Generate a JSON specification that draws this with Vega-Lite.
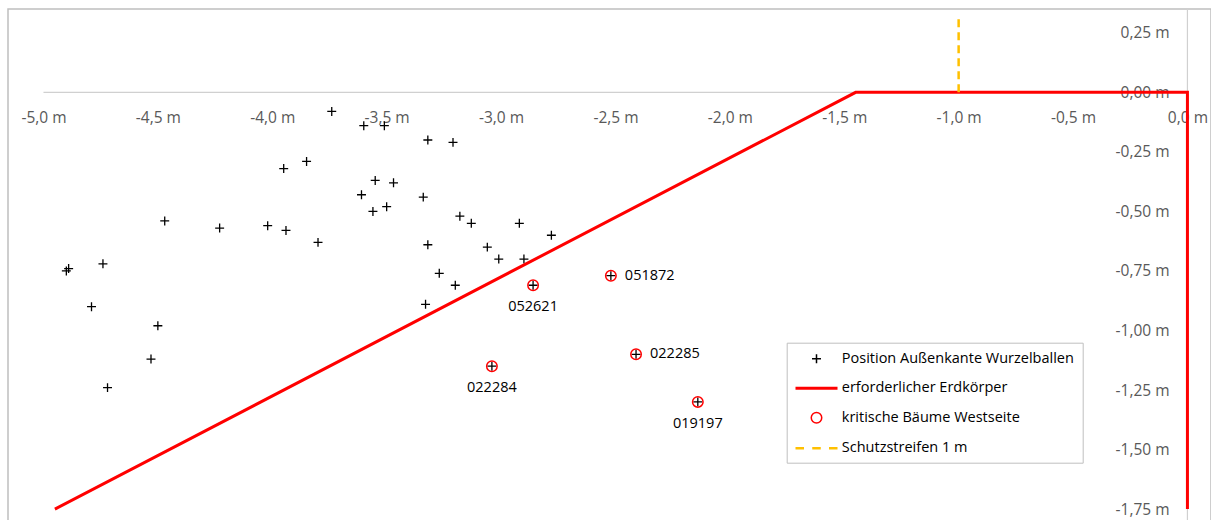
{
  "$schema": "https://vega.github.io/schema/vega-lite/v6.json",
  "width": 1203,
  "height": 512,
  "autosize": "none",
  "padding": {"left": 8, "top": 9, "right": 0, "bottom": 0},
  "background": "white",
  "config": {
    "view": {"stroke": "#BFBFBF", "strokeWidth": 1.5},
    "font": "Open Sans",
    "axis": {"labelFont": "Open Sans", "labelFontSize": 15.5, "labelColor": "#595959", "domain": false, "ticks": false, "grid": false}
  },
  "datasets": {
    "roots": [
      {"x": -4.90, "y": -0.75}, {"x": -4.89, "y": -0.74}, {"x": -4.74, "y": -0.72}, {"x": -4.79, "y": -0.90},
      {"x": -4.50, "y": -0.98}, {"x": -4.53, "y": -1.12}, {"x": -4.72, "y": -1.24}, {"x": -4.47, "y": -0.54},
      {"x": -4.23, "y": -0.57}, {"x": -4.02, "y": -0.56}, {"x": -3.94, "y": -0.58}, {"x": -3.80, "y": -0.63},
      {"x": -3.95, "y": -0.32}, {"x": -3.85, "y": -0.29}, {"x": -3.74, "y": -0.08}, {"x": -3.60, "y": -0.14},
      {"x": -3.51, "y": -0.14}, {"x": -3.32, "y": -0.20}, {"x": -3.21, "y": -0.21}, {"x": -3.55, "y": -0.37},
      {"x": -3.47, "y": -0.38}, {"x": -3.61, "y": -0.43}, {"x": -3.34, "y": -0.44}, {"x": -3.56, "y": -0.50},
      {"x": -3.50, "y": -0.48}, {"x": -3.18, "y": -0.52}, {"x": -3.13, "y": -0.55}, {"x": -2.92, "y": -0.55},
      {"x": -2.78, "y": -0.60}, {"x": -3.32, "y": -0.64}, {"x": -3.06, "y": -0.65}, {"x": -3.01, "y": -0.70},
      {"x": -2.90, "y": -0.70}, {"x": -3.27, "y": -0.76}, {"x": -3.20, "y": -0.81}, {"x": -3.33, "y": -0.89},
      {"x": -2.86, "y": -0.81}, {"x": -2.52, "y": -0.77}, {"x": -2.41, "y": -1.10}, {"x": -3.04, "y": -1.15},
      {"x": -2.14, "y": -1.30}
    ],
    "trees": [
      {"name": "052621", "x": -2.86, "y": -0.81},
      {"name": "051872", "x": -2.52, "y": -0.77},
      {"name": "022285", "x": -2.41, "y": -1.10},
      {"name": "022284", "x": -3.04, "y": -1.15},
      {"name": "019197", "x": -2.14, "y": -1.30}
    ],
    "profile": [
      {"i": 1, "x": -4.95, "y": -1.75},
      {"i": 2, "x": -1.45, "y": 0},
      {"i": 3, "x": 0, "y": 0},
      {"i": 4, "x": 0, "y": -1.75}
    ],
    "strip": [
      {"i": 1, "x": -1, "y": 0},
      {"i": 2, "x": -1, "y": 0.32}
    ],
    "axislines": [
      {"x": -5, "x2": 0, "y": 0, "y2": 0},
      {"x": 0, "x2": 0, "y": -1.8, "y2": 0.35}
    ]
  },
  "encoding": {
    "x": {
      "field": "x", "type": "quantitative",
      "scale": {"domain": [-5.155, 0.103], "nice": false, "zero": false},
      "axis": {
        "title": null, "orient": "bottom", "offset": -428.7, "labelPadding": 18,
        "values": [-5, -4.5, -4, -3.5, -3, -2.5, -2, -1.5, -1, -0.5, 0],
        "labelExpr": "replace(replace(format(datum.value, '.1f'), '\u2212', '-'), '.', ',') + ' m'",
        "labelFlush": false, "labelOverlap": false
      }
    },
    "y": {
      "field": "y", "type": "quantitative",
      "scale": {"domain": [-1.8, 0.35], "nice": false, "zero": false},
      "axis": {
        "title": null, "orient": "left", "offset": -1179.5, "labelPadding": 18.5,
        "values": [-1.75, -1.5, -1.25, -1, -0.75, -0.5, -0.25, 0, 0.25],
        "labelExpr": "replace(replace(format(datum.value, '.2f'), '\u2212', '-'), '.', ',') + ' m'",
        "labelFlush": false, "labelOverlap": false
      }
    }
  },
  "layer": [
    {
      "data": {"name": "axislines"},
      "mark": {"type": "rule", "color": "#D0D0D0", "strokeWidth": 1.2},
      "encoding": {"x2": {"field": "x2"}, "y2": {"field": "y2"}}
    },
    {
      "data": {"name": "roots"},
      "mark": {"type": "point", "filled": false, "opacity": 1, "size": 196, "strokeWidth": 1.3},
      "encoding": {
        "color": {
          "datum": "Position Außenkante Wurzelballen",
          "scale": {
            "type": "ordinal",
            "domain": ["Position Außenkante Wurzelballen", "erforderlicher Erdkörper", "kritische Bäume Westseite", "Schutzstreifen 1 m"],
            "range": ["#000000", "#FF0000", "#FF0000", "#FFC000"]
          },
          "legend": {
            "title": null, "orient": "none", "legendX": 778.7, "legendY": 333.7,
            "strokeColor": "#BFBFBF", "fillColor": "white", "padding": 8,
            "labelFont": "Open Sans", "labelFontSize": 14.5, "labelColor": "#000000", "labelLimit": 500,
            "symbolSize": 196, "symbolOffset": 13.8, "labelOffset": 17.3, "rowPadding": 13.5,
            "symbolFillColor": "transparent", "symbolStrokeWidth": 1.5
          }
        },
        "shape": {
          "datum": "Position Außenkante Wurzelballen",
          "scale": {
            "type": "ordinal",
            "domain": ["Position Außenkante Wurzelballen", "erforderlicher Erdkörper", "kritische Bäume Westseite", "Schutzstreifen 1 m"],
            "range": [
              "M-0.64,0L0.64,0M0,-0.64L0,0.64",
              "M-2.893,-0.107L2.893,-0.107L2.893,0.107L-2.893,0.107Z",
              "M-0.75,0A0.75,0.75,0,1,0,0.75,0A0.75,0.75,0,1,0,-0.75,0",
              "M-2.893,-0.071L-1.893,-0.071L-1.893,0.071L-2.893,0.071ZM-0.5,-0.071L0.5,-0.071L0.5,0.071L-0.5,0.071ZM1.893,-0.071L2.893,-0.071L2.893,0.071L1.893,0.071Z"
            ]
          }
        }
      }
    },
    {
      "data": {"name": "profile"},
      "mark": {"type": "line", "strokeWidth": 3},
      "encoding": {
        "order": {"field": "i", "type": "quantitative"},
        "color": {"datum": "erforderlicher Erdkörper"}
      }
    },
    {
      "data": {"name": "trees"},
      "mark": {"type": "point", "filled": false, "opacity": 1, "size": 196, "strokeWidth": 1.5},
      "encoding": {
        "color": {"datum": "kritische Bäume Westseite"},
        "shape": {"datum": "kritische Bäume Westseite"}
      }
    },
    {
      "data": {"name": "strip"},
      "mark": {"type": "line", "strokeWidth": 2.5, "strokeDash": [8, 5]},
      "encoding": {
        "order": {"field": "i", "type": "quantitative"},
        "color": {"datum": "Schutzstreifen 1 m"}
      }
    },
    {
      "data": {"name": "trees"},
      "transform": [{"filter": "datum.name === '051872' || datum.name === '022285'"}],
      "mark": {"type": "text", "align": "left", "baseline": "middle", "dx": 14, "fontSize": 14.5, "font": "Open Sans", "color": "#000000"},
      "encoding": {"text": {"field": "name"}}
    },
    {
      "data": {"name": "trees"},
      "transform": [{"filter": "datum.name !== '051872' && datum.name !== '022285'"}],
      "mark": {"type": "text", "align": "center", "baseline": "middle", "dy": 22, "fontSize": 14.5, "font": "Open Sans", "color": "#000000"},
      "encoding": {"text": {"field": "name"}}
    }
  ]
}
